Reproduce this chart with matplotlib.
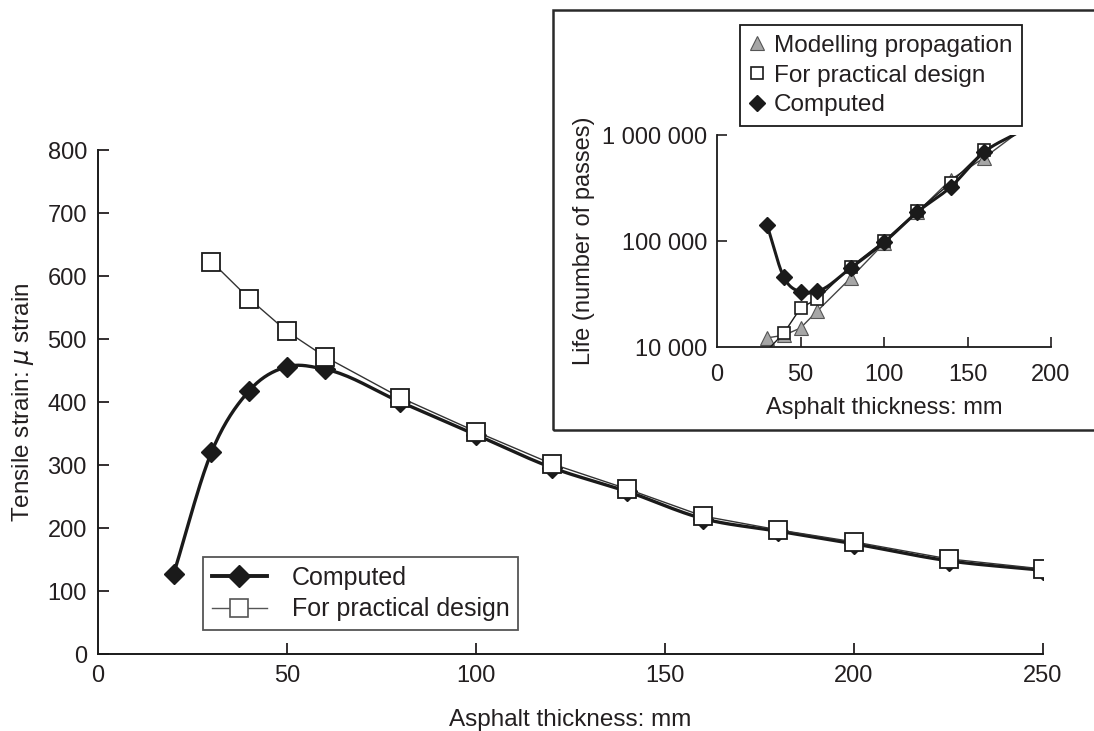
import matplotlib.pyplot as plt
from matplotlib.patches import Rectangle
from matplotlib.ticker import FixedLocator, NullLocator
import numpy as np

plt.rcParams['font.family'] = ['Liberation Sans', 'DejaVu Sans']
plt.rcParams['font.size'] = 17
plt.rcParams['text.color'] = '#231f20'
plt.rcParams['axes.labelcolor'] = '#231f20'
plt.rcParams['xtick.color'] = '#231f20'
plt.rcParams['ytick.color'] = '#231f20'

# main chart: tensile strain vs thickness
comp_x = [20, 30, 40, 50, 60, 80, 100, 120, 140, 160, 180, 200, 225, 250]
comp_y = [127, 320, 418, 456, 452, 400, 348, 296, 258, 215, 195, 175, 148, 133]
prac_x = [30, 40, 50, 60, 80, 100, 120, 140, 160, 180, 200, 225, 250]
prac_y = [623, 564, 512, 472, 407, 353, 302, 262, 219, 197, 178, 151, 135]

# inset: life vs thickness
in_comp_x = [30, 40, 50, 60, 80, 100, 120, 140, 160, 180]
in_comp_y = [141000, 45700, 33000, 33500, 55600, 97000, 188000, 324000, 690000, 1050000]
in_prac_x = [30, 40, 50, 60, 80, 100, 120, 140, 160, 180]
in_prac_y = [9300, 13500, 23300, 28400, 56900, 100000, 192000, 353000, 720000, 1050000]
in_mod_x = [30, 40, 50, 60, 80, 100, 120, 140, 160, 180]
in_mod_y = [12200, 12900, 15100, 21800, 44700, 95000, 188000, 380000, 610000, 1050000]


def smooth(x, y, n=20, logy=False):
    x = np.asarray(x, float)
    y = np.asarray(y, float)
    if logy:
        y = np.log10(y)
    m = np.gradient(y, x)
    xs, ys = [], []
    for i in range(len(x) - 1):
        h = x[i+1] - x[i]
        t = np.linspace(0, 1, n, endpoint=False)
        h00 = 2*t**3 - 3*t**2 + 1
        h10 = t**3 - 2*t**2 + t
        h01 = -2*t**3 + 3*t**2
        h11 = t**3 - t**2
        xs.append(x[i] + t*h)
        ys.append(h00*y[i] + h10*h*m[i] + h01*y[i+1] + h11*h*m[i+1])
    xs.append([x[-1]])
    ys.append([y[-1]])
    xs = np.concatenate(xs)
    ys = np.concatenate(ys)
    if logy:
        ys = 10**ys
    return xs, ys


fig = plt.figure(figsize=(10.94, 7.31), dpi=100)
ax = fig.add_axes([0.0896, 0.1053, 0.8638, 0.6895])

sx, sy = smooth(comp_x, comp_y)
ax.plot(sx, sy, color='#1a1a1a', lw=2.4, zorder=2)
ax.plot(comp_x, comp_y, ls='none', marker='D', ms=10, color='#1a1a1a', zorder=3)
ax.plot(prac_x, prac_y, color='#333333', lw=1.0, marker='s', ms=13,
        mfc='white', mec='#1a1a1a', mew=1.3, zorder=4)

# legend proxies
h1, = ax.plot([], [], color='#1a1a1a', lw=2.8, marker='D', ms=11)
h2, = ax.plot([], [], color='#555555', lw=1.0, marker='s', ms=13,
              mfc='white', mec='#555555', mew=1.2)
leg = ax.legend([h1, h2], ['Computed', 'For practical design'],
                loc='upper left', bbox_to_anchor=(0.1856, 0.238),
                bbox_transform=fig.transFigure, borderaxespad=0,
                fancybox=False, framealpha=1, edgecolor='#555555',
                handlelength=2.2, handletextpad=1.0, borderpad=0.35,
                labelspacing=0.3, fontsize=18)
leg.get_frame().set_linewidth(1.3)

ax.set_xlim(0, 250)
ax.set_ylim(0, 800)
ax.xaxis.set_major_locator(FixedLocator([0, 50, 100, 150, 200, 250]))
ax.yaxis.set_major_locator(FixedLocator(range(0, 801, 100)))
ax.tick_params(direction='in', length=8, width=1.3, labelsize=17, pad=8)
ax.xaxis.get_major_ticks()[0].tick1line.set_visible(False)
for s in ['top', 'right']:
    ax.spines[s].set_visible(False)
for s in ['left', 'bottom']:
    ax.spines[s].set_linewidth(1.4)
    ax.spines[s].set_color('#1a1a1a')
ax.set_xlabel('Asphalt thickness: mm', fontsize=17.5, labelpad=16)
ax.set_ylabel('Tensile strain: $\\mu$ strain', fontsize=17.5, labelpad=8)

# inset frame
fig.patches.append(Rectangle((0.5055, 0.4118), 0.52, 0.5745, transform=fig.transFigure,
                             fill=False, edgecolor='#2a2a2a', lw=1.8, zorder=0))

ins = fig.add_axes([0.6554, 0.5253, 0.3053, 0.29])
ins.set_yscale('log')
ix, iy = smooth(in_comp_x, in_comp_y, logy=True)
ins.plot(in_mod_x, in_mod_y, color='#444444', lw=1.0, marker='^', ms=10,
         mfc='#a6a6a6', mec='#555555', mew=0.8, markevery=list(range(9)), zorder=2)
ins.plot(in_prac_x, in_prac_y, color='#1a1a1a', lw=1.0, marker='s', ms=9,
         mfc='white', mec='#1a1a1a', mew=1.2, markevery=list(range(1, 9)), zorder=3)
ins.plot(ix, iy, color='#1a1a1a', lw=2.2, zorder=4)
ins.plot(in_comp_x[:-1], in_comp_y[:-1], ls='none', marker='D', ms=8, color='#1a1a1a', zorder=5)

g1, = ins.plot([], [], ls='none', marker='^', ms=10, mfc='#a6a6a6', mec='#555555', mew=0.8)
g2, = ins.plot([], [], ls='none', marker='s', ms=9, mfc='white', mec='#1a1a1a', mew=1.2)
g3, = ins.plot([], [], ls='none', marker='D', ms=8, color='#1a1a1a')
leg2 = ins.legend([g1, g2, g3], ['Modelling propagation', 'For practical design', 'Computed'],
                  loc='upper left', bbox_to_anchor=(740/1094, 1 - 25/731),
                  bbox_transform=fig.transFigure, borderaxespad=0,
                  fancybox=False, framealpha=1, edgecolor='#1a1a1a',
                  handlelength=0.6, handletextpad=0.4, borderpad=0.4,
                  labelspacing=0.32, fontsize=17.5)
leg2.get_frame().set_linewidth(1.3)

ins.set_xlim(0, 200)
ins.set_ylim(1e4, 1e6)
ins.xaxis.set_major_locator(FixedLocator([0, 50, 100, 150, 200]))
ins.yaxis.set_major_locator(FixedLocator([1e4, 1e5, 1e6]))
ins.yaxis.set_minor_locator(NullLocator())
ins.set_yticklabels(['10 000', '100 000', '1 000 000'])
ins.tick_params(direction='in', length=7, width=1.2, labelsize=17, pad=7)
ins.tick_params(axis='x', pad=12)
ins.xaxis.get_major_ticks()[0].tick1line.set_visible(False)
ins.yaxis.get_major_ticks()[0].tick1line.set_visible(False)
for s in ['top', 'right']:
    ins.spines[s].set_visible(False)
for s in ['left', 'bottom']:
    ins.spines[s].set_linewidth(1.3)
    ins.spines[s].set_color('#1a1a1a')
ins.set_xlabel('Asphalt thickness: mm', fontsize=17, labelpad=8)
ins.set_ylabel('Life (number of passes)', fontsize=17, labelpad=5)

fig.savefig('out.png', dpi=100)
